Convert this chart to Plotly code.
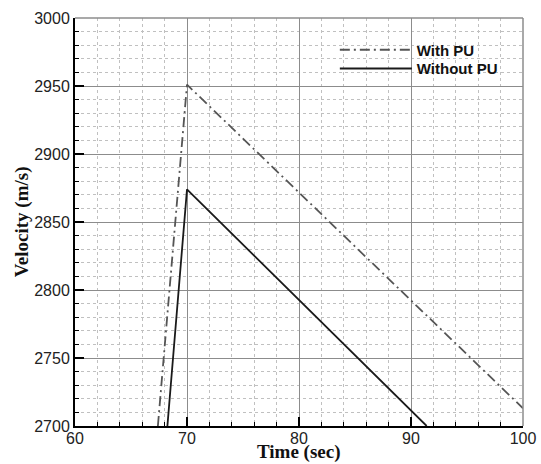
import plotly.graph_objects as go

time_with_pu = [67.4, 70.0, 100.0]
vel_with_pu = [2700, 2951, 2713]

time_without_pu = [68.25, 70.0, 91.4]
vel_without_pu = [2700, 2874, 2700]

x_ticks = [60, 70, 80, 90, 100]
y_ticks = [2700, 2750, 2800, 2850, 2900, 2950, 3000]

fig = go.Figure()
fig.add_trace(go.Scatter(
    x=time_with_pu, y=vel_with_pu, mode="lines", name="With PU",
    line=dict(color="#555555", width=1.8, dash="10px,4px,2px,4px"),
    legend="legend",
))
fig.add_trace(go.Scatter(
    x=time_without_pu, y=vel_without_pu, mode="lines", name="Without PU",
    line=dict(color="#1a1a1a", width=1.8),
    legend="legend2",
))

axis_common = dict(
    showline=True, linecolor="black", linewidth=2,
    showgrid=True, gridcolor="#8c8c8c", gridwidth=1,
    ticks="inside", ticklen=9, tickwidth=2, tickcolor="black",
    tickfont=dict(family="Liberation Sans, Arial", size=16, color="#222222"),
    zeroline=False, automargin=False,
)

fig.update_xaxes(
    range=[60, 100], tickvals=x_ticks, ticklabelstandoff=-3, **axis_common,
    minor=dict(dtick=2, showgrid=True, gridcolor="#c0c0c0", griddash="dot",
               ticks="inside", ticklen=4, tickwidth=1, tickcolor="black"),
)
fig.update_yaxes(
    range=[2700, 3000], tickvals=y_ticks, **axis_common,
    minor=dict(dtick=10, showgrid=True, gridcolor="#c0c0c0", griddash="dot",
               ticks="inside", ticklen=4, tickwidth=1, tickcolor="black"),
)

title_font = dict(family="Liberation Serif, Times New Roman", size=19, color="#111111")
fig.add_annotation(text="<b>Time (sec)</b>", xref="paper", yref="paper",
                   x=0.5, y=-0.064, xanchor="center", yanchor="middle",
                   showarrow=False, font=title_font)
fig.add_annotation(text="<b>Velocity (m/s)</b>", xref="paper", yref="paper",
                   x=-0.118, y=0.5, xanchor="center", yanchor="middle",
                   textangle=-90, showarrow=False, font=title_font)

# thin grey frame on the top and right edges
fig.add_shape(type="line", xref="paper", yref="paper", x0=0, x1=1, y0=1, y1=1,
              line=dict(color="#8c8c8c", width=1.5))
fig.add_shape(type="line", xref="paper", yref="paper", x0=1, x1=1, y0=0, y1=1,
              line=dict(color="#8c8c8c", width=1.5))

legend_font = dict(family="Liberation Sans, Arial", size=15, color="#111111", weight="bold")
legend_common = dict(x=0.58, xanchor="left", yanchor="top", bgcolor="rgba(0,0,0,0)",
                     itemwidth=72, font=legend_font)

fig.update_layout(
    width=541, height=464,
    margin=dict(l=75, r=18, t=18, b=38),
    plot_bgcolor="white", paper_bgcolor="white",
    showlegend=True,
    legend=dict(y=0.962, **legend_common),
    legend2=dict(y=0.916, **legend_common),
)

# the page body has a default 8px margin; drop it so the figure sits at 0,0
fig.write_html("out.html", config={"displayModeBar": False},
               post_script="document.body.style.margin = '0';")
